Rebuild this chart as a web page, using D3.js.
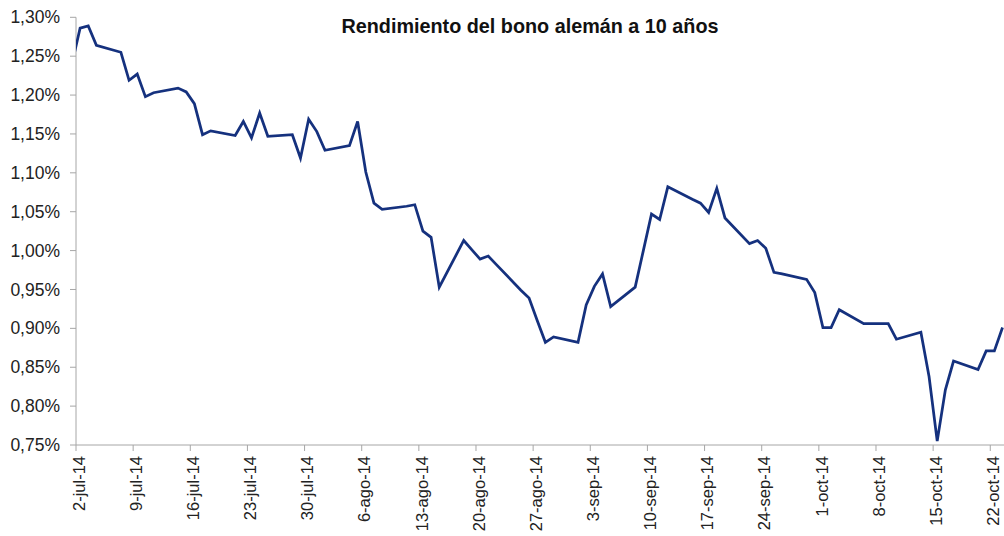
<!DOCTYPE html>
<html>
<head>
<meta charset="utf-8">
<script src="https://cdn.jsdelivr.net/npm/d3@7.9.0/dist/d3.min.js"></script>
<style>
  html, body { margin: 0; padding: 0; background: #fff; }
  svg { display: block; font-family: "Liberation Sans", Arial, sans-serif; }
</style>
</head>
<body>
<svg id="chart" width="1004" height="536"></svg>
<script>
const title = 'Rendimiento del bono alemán a 10 años';

// daily closes
const dates = [
  '2014-07-01', '2014-07-02', '2014-07-03', '2014-07-04',
  '2014-07-07', '2014-07-08', '2014-07-09', '2014-07-10', '2014-07-11',
  '2014-07-14', '2014-07-15', '2014-07-16', '2014-07-17', '2014-07-18',
  '2014-07-21', '2014-07-22', '2014-07-23', '2014-07-24', '2014-07-25',
  '2014-07-28', '2014-07-29', '2014-07-30', '2014-07-31', '2014-08-01',
  '2014-08-04', '2014-08-05', '2014-08-06', '2014-08-07', '2014-08-08',
  '2014-08-11', '2014-08-12', '2014-08-13', '2014-08-14', '2014-08-15',
  '2014-08-18', '2014-08-19', '2014-08-20', '2014-08-21', '2014-08-22',
  '2014-08-25', '2014-08-26', '2014-08-27', '2014-08-28', '2014-08-29',
  '2014-09-01', '2014-09-02', '2014-09-03', '2014-09-04', '2014-09-05',
  '2014-09-08', '2014-09-09', '2014-09-10', '2014-09-11', '2014-09-12',
  '2014-09-15', '2014-09-16', '2014-09-17', '2014-09-18', '2014-09-19',
  '2014-09-22', '2014-09-23', '2014-09-24', '2014-09-25', '2014-09-26',
  '2014-09-29', '2014-09-30', '2014-10-01', '2014-10-02', '2014-10-03',
  '2014-10-06', '2014-10-07', '2014-10-08', '2014-10-09', '2014-10-10',
  '2014-10-13', '2014-10-14', '2014-10-15', '2014-10-16', '2014-10-17',
  '2014-10-20', '2014-10-21', '2014-10-22', '2014-10-23'
];

const yields = [
  1.240, 1.286, 1.289, 1.264,
  1.255, 1.219, 1.227, 1.198, 1.203,
  1.209, 1.204, 1.189, 1.149, 1.154,
  1.148, 1.166, 1.145, 1.177, 1.147,
  1.149, 1.119, 1.169, 1.153, 1.129,
  1.135, 1.166, 1.101, 1.061, 1.053,
  1.057, 1.059, 1.025, 1.017, 0.953,
  1.013, 1.001, 0.989, 0.993, 0.982,
  0.949, 0.939, 0.910, 0.882, 0.889,
  0.882, 0.930, 0.954, 0.970, 0.928,
  0.953, 1.000, 1.047, 1.040, 1.082,
  1.066, 1.061, 1.049, 1.080, 1.042,
  1.009, 1.013, 1.003, 0.972, 0.970,
  0.963, 0.946, 0.901, 0.901, 0.924,
  0.906, 0.906, 0.906, 0.906, 0.886,
  0.895, 0.838, 0.755, 0.821, 0.858,
  0.847, 0.871, 0.871, 0.901
];

const tickLabels = [
  '2-jul-14', '9-jul-14', '16-jul-14', '23-jul-14', '30-jul-14',
  '6-ago-14', '13-ago-14', '20-ago-14', '27-ago-14',
  '3-sep-14', '10-sep-14', '17-sep-14', '24-sep-14',
  '1-oct-14', '8-oct-14', '15-oct-14', '22-oct-14'
];

const yTicks = [0.75, 0.80, 0.85, 0.90, 0.95, 1.00, 1.05, 1.10, 1.15, 1.20, 1.25, 1.30];

const parse = d3.timeParse('%Y-%m-%d');
// excel date axis puts each day's point in the middle of its slot
const data = dates.map((d, i) => ({ date: d3.timeHour.offset(parse(d), 12), value: yields[i] }));

const svg = d3.select('#chart');
const plotLeft = 76, plotRight = 1006.6, plotTop = 17.3, plotBottom = 445;

const x = d3.scaleTime()
  .domain([parse('2014-07-02'), parse('2014-10-24')])
  .range([plotLeft, plotRight]);

const y = d3.scaleLinear()
  .domain([0.75, 1.30])
  .range([plotBottom, plotTop]);

const es = d3.formatLocale({ decimal: ',', thousands: '.', grouping: [3], currency: ['', ' €'] });
const fmt = es.format('.2f');

svg.append('text')
  .attr('x', 530)
  .attr('y', 32.5)
  .attr('text-anchor', 'middle')
  .attr('font-size', 19.8)
  .attr('font-weight', 'bold')
  .attr('fill', '#111')
  .text(title);

svg.append('defs').append('clipPath').attr('id', 'plot')
  .append('rect')
  .attr('x', plotLeft).attr('y', 0)
  .attr('width', plotRight - plotLeft).attr('height', 536);

// y axis
const yAxis = svg.append('g');
yAxis.append('line')
  .attr('x1', plotLeft).attr('x2', plotLeft)
  .attr('y1', plotTop).attr('y2', plotBottom)
  .attr('stroke', '#a6a6a6');
yTicks.forEach(t => {
  yAxis.append('line')
    .attr('x1', plotLeft - 6).attr('x2', plotLeft)
    .attr('y1', y(t)).attr('y2', y(t))
    .attr('stroke', '#a6a6a6');
  yAxis.append('text')
    .attr('x', 60)
    .attr('y', y(t))
    .attr('dy', '0.35em')
    .attr('text-anchor', 'end')
    .attr('font-size', 17.5)
    .attr('fill', '#222')
    .text(fmt(t) + '%');
});

// x axis, one tick a week on wednesdays
const tickDates = d3.timeWednesday.range(parse('2014-07-02'), parse('2014-10-24'));
const xAxis = svg.append('g');
xAxis.append('line')
  .attr('x1', plotLeft).attr('x2', 1004)
  .attr('y1', plotBottom).attr('y2', plotBottom)
  .attr('stroke', '#a6a6a6');
tickDates.forEach((d, i) => {
  const tx = x(d);
  xAxis.append('line')
    .attr('x1', tx).attr('x2', tx)
    .attr('y1', plotBottom).attr('y2', plotBottom + 6)
    .attr('stroke', '#a6a6a6');
  xAxis.append('text')
    .attr('transform', `translate(${tx + 3},${plotBottom + 11}) rotate(-90)`)
    .attr('dy', '0.35em')
    .attr('text-anchor', 'end')
    .attr('font-size', 16.5)
    .attr('fill', '#222')
    .text(tickLabels[i]);
});

const line = d3.line()
  .x(d => x(d.date))
  .y(d => y(d.value));

svg.append('path')
  .datum(data)
  .attr('clip-path', 'url(#plot)')
  .attr('fill', 'none')
  .attr('stroke', '#15317e')
  .attr('stroke-width', 2.75)
  .attr('stroke-linejoin', 'miter')
  .attr('d', line);
</script>
</body>
</html>
